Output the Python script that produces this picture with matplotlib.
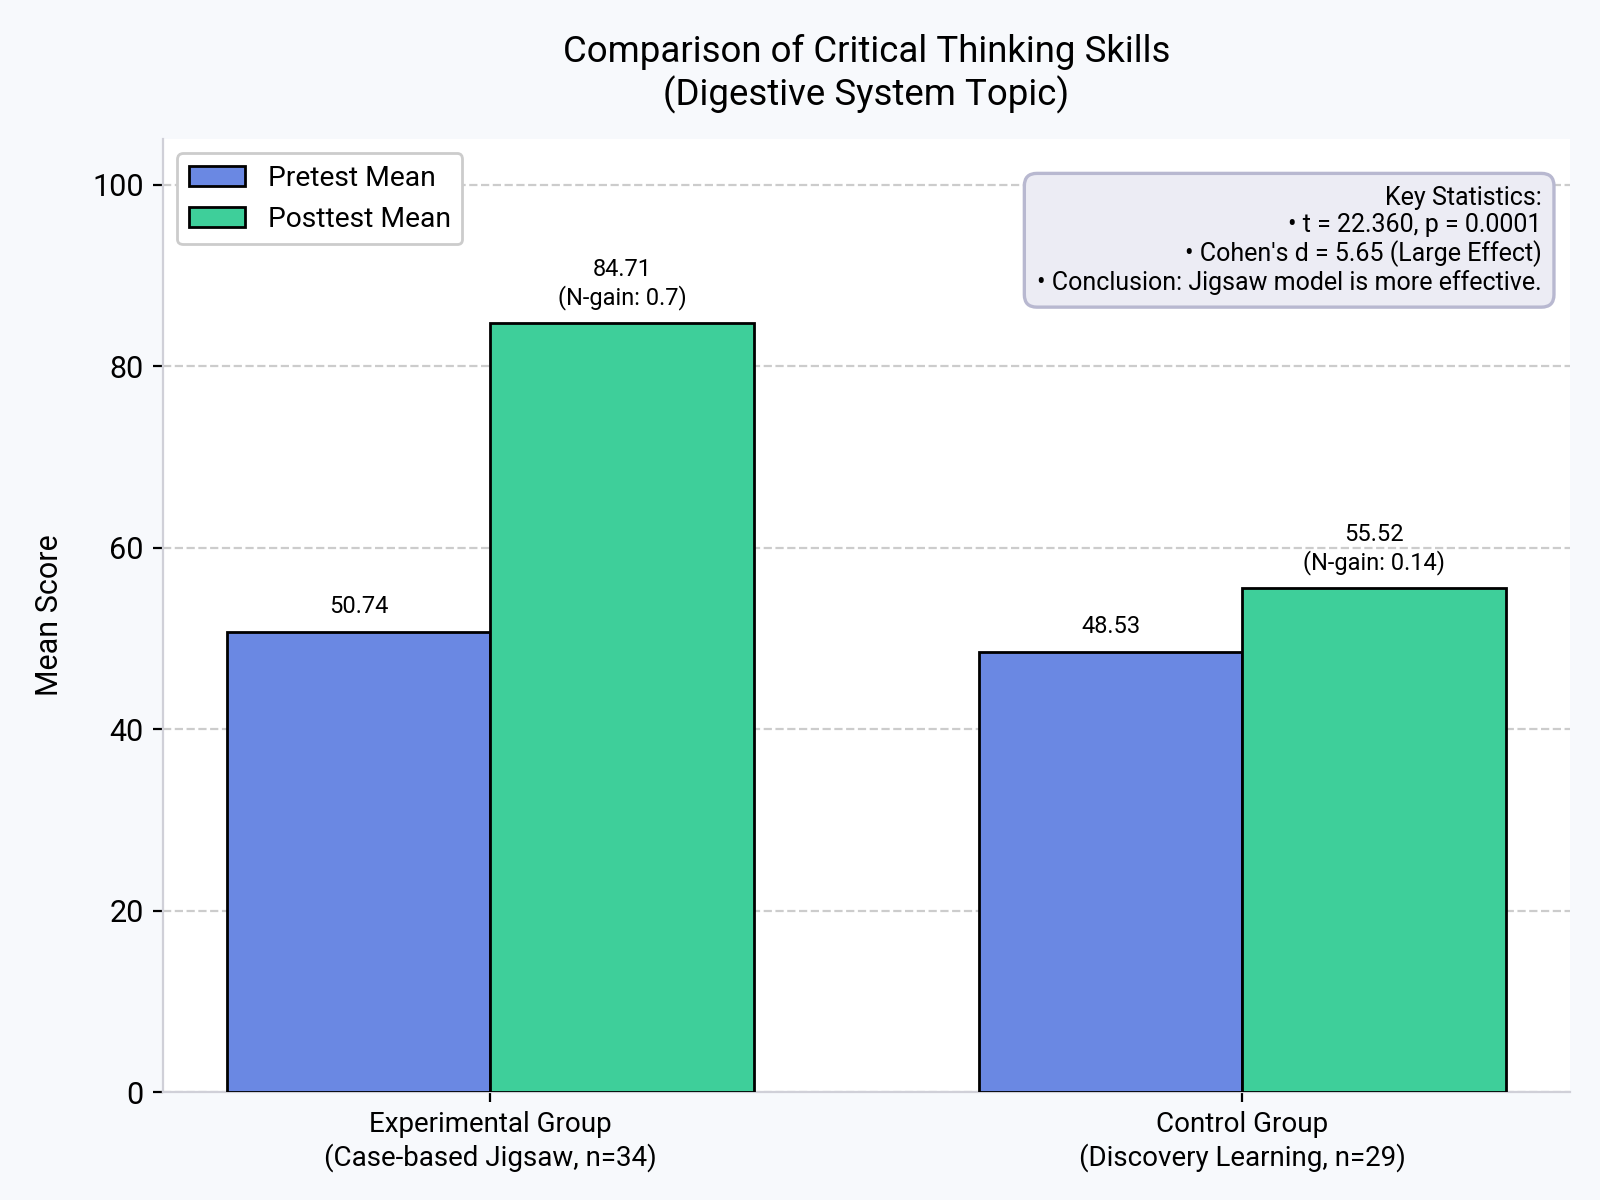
import matplotlib

matplotlib.use("Agg")

import matplotlib.pyplot as plt
import numpy as np

plt.rcParams["font.family"] = ["Roboto", "DejaVu Sans"]

# 数据
groups = [
    "Experimental Group\n(Case-based Jigsaw, n=34)",
    "Control Group\n(Discovery Learning, n=29)",
]
pretest = [50.74, 48.53]
posttest = [84.71, 55.52]
n_gain = ["0.7", "0.14"]
stats_lines = [
    "Key Statistics:",
    "\u2022 t = 22.360, p = 0.0001",
    "\u2022 Cohen's d = 5.65 (Large Effect)",
    "\u2022 Conclusion: Jigsaw model is more effective.",
]

PRE_COLOR = "#6a88e3"
POST_COLOR = "#3ecf9a"

fig, ax = plt.subplots(figsize=(8, 6), dpi=200)
fig.patch.set_facecolor("#f7f9fc")
ax.set_facecolor("white")
fig.subplots_adjust(left=0.102, right=0.981, bottom=0.09, top=0.884)

x = np.arange(len(groups))
width = 0.35

bars_pre = ax.bar(x - width / 2, pretest, width, label="Pretest Mean",
                  color=PRE_COLOR, edgecolor="black", linewidth=1, zorder=3)
bars_post = ax.bar(x + width / 2, posttest, width, label="Posttest Mean",
                   color=POST_COLOR, edgecolor="black", linewidth=1, zorder=3)

# 柱顶标注
for bar, val in zip(bars_pre, pretest):
    ax.text(bar.get_x() + bar.get_width() / 2, val + 1.5, f"{val:.2f}",
            ha="center", va="bottom", fontsize=8.5)
for bar, val, g in zip(bars_post, posttest, n_gain):
    ax.text(bar.get_x() + bar.get_width() / 2, val + 1.5,
            f"{val:.2f}\n(N-gain: {g})",
            ha="center", va="bottom", fontsize=8.5)

ax.set_ylim(0, 105)
ax.set_xticks(x)
ax.set_xticklabels(groups, fontsize=10)
ax.tick_params(axis="y", labelsize=11)
ax.set_ylabel("Mean Score", fontsize=11, labelpad=10)
ax.set_title("Comparison of Critical Thinking Skills\n(Digestive System Topic)",
             fontsize=13.2, pad=12)

ax.yaxis.grid(True, linestyle="--", color="#cccccc", linewidth=0.8, zorder=0)
ax.set_axisbelow(True)
for side in ["top", "right"]:
    ax.spines[side].set_visible(False)
for side in ["left", "bottom"]:
    ax.spines[side].set_color("#d0d0d8")

ax.legend(loc="upper left", fontsize=10.2, framealpha=1,
          edgecolor="#cccccc", fancybox=True)

ax.text(0.98, 0.951, "\n".join(stats_lines), transform=ax.transAxes,
        ha="right", va="top", fontsize=9, linespacing=1.15,
        bbox=dict(boxstyle="round,pad=0.5", facecolor="#ececf4",
                  edgecolor="#b8b8d0", linewidth=1.2))

plt.savefig("out.png", dpi=200, facecolor=fig.get_facecolor())
plt.close()
